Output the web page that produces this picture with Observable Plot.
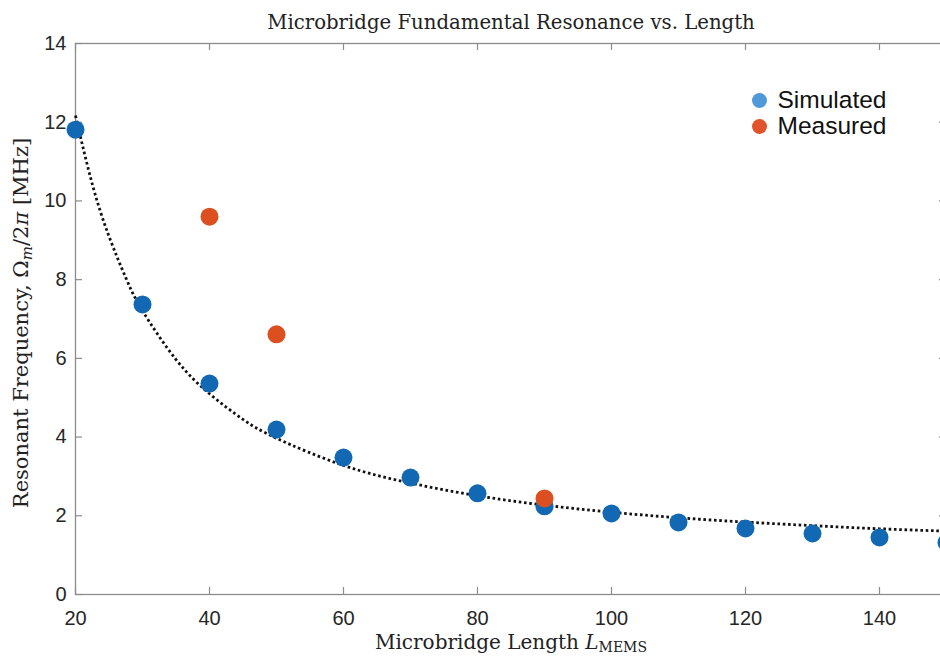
<!DOCTYPE html>
<html><head><meta charset="utf-8">
<script src="https://cdn.jsdelivr.net/npm/d3@7"></script>
<script src="https://cdn.jsdelivr.net/npm/@observablehq/plot@0.6"></script>
<style>
html,body{margin:0;padding:0;background:#fff;overflow:hidden;width:940px;height:656px}
#chart{position:relative;width:948px;height:656px}
</style>
</head><body><div id="chart"></div>
<script>
// ---- data ----
const lengths   = [20, 30, 40, 50, 60, 70, 80, 90, 100, 110, 120, 130, 140, 150];
const simulated = [11.81, 7.37, 5.36, 4.19, 3.48, 2.97, 2.57, 2.24, 2.06, 1.83, 1.68, 1.55, 1.45, 1.32];
const measuredLengths = [40, 50, 90];
const measured        = [9.60, 6.61, 2.44];
const fitLengths = [20, 22.5, 25, 27.5, 30, 35, 40, 45, 50, 60, 70, 80, 90, 100, 110, 120, 130, 140, 150];
const fitValues  = [12.17, 10.43, 9.1, 8.05, 7.21, 5.97, 5.1, 4.45, 3.97, 3.28, 2.83, 2.51, 2.27, 2.09, 1.95, 1.84, 1.75, 1.67, 1.61];
const xTicks = [20, 40, 60, 80, 100, 120, 140];
const yTicks = [0, 2, 4, 6, 8, 10, 12, 14];
const seriesNames = ["Simulated", "Measured"];
const titleText = "Microbridge Fundamental Resonance vs. Length";
const xLabelText = "Microbridge Length LMEMS";
const yLabelText = "Resonant Frequency, Ωm/2π [MHz]";

const simData = lengths.map((x, i) => ({x, y: simulated[i]}));
const meaData = measuredLengths.map((x, i) => ({x, y: measured[i]}));
const fitData = fitLengths.map((x, i) => ({x, y: fitValues[i]}));

const W = 948, H = 656, ML = 75, MR = 2, MT = 43, MB = 62;
const frameW = W - ML - MR, frameH = H - MT - MB, tickLen = 7;

const blue = "#1268b3", orange = "#dc4f20";
const legendBlue = "#4f98da", legendOrange = "#e0532b";
const axisGray = "#8c8c8c", textCol = "#262626";
const sans = "Liberation Sans, Arial, sans-serif";
const serif = "DejaVu Serif, serif";

const chart = Plot.plot({
  width: W, height: H,
  marginLeft: ML, marginRight: MR, marginTop: MT, marginBottom: MB,
  style: {background: "#fff", overflow: "visible"},
  x: {domain: [20, 150]},
  y: {domain: [0, 14]},
  marks: [
    Plot.frame({stroke: axisGray, strokeWidth: 1.3}),
    // inward ticks on all four sides
    Plot.tickX(xTicks, {x: d => d, insetTop: frameH - tickLen, stroke: axisGray, strokeWidth: 1.2}),
    Plot.tickX(xTicks, {x: d => d, insetBottom: frameH - tickLen, stroke: axisGray, strokeWidth: 1.2}),
    Plot.tickY(yTicks, {y: d => d, insetRight: frameW - tickLen, stroke: axisGray, strokeWidth: 1.2}),
    Plot.tickY(yTicks, {y: d => d, insetLeft: frameW - tickLen, stroke: axisGray, strokeWidth: 1.2}),
    // tick labels
    Plot.axisX({anchor: "bottom", ticks: xTicks, tickSize: 0, tickPadding: 16, fill: textCol, fontSize: 20, fontFamily: sans, label: null}),
    Plot.axisY({anchor: "left", ticks: yTicks, tickSize: 0, tickPadding: 9, fill: textCol, fontSize: 20, fontFamily: sans, label: null}),
    // fit curve
    Plot.line(fitData, {x: "x", y: "y", stroke: "#111", strokeWidth: 2.8, strokeDasharray: "2.6 2.7", strokeLinecap: "butt", curve: "natural"}),
    Plot.dot(simData, {x: "x", y: "y", r: 9, fill: blue, stroke: "none"}),
    Plot.dot(meaData, {x: "x", y: "y", r: 9, fill: orange, stroke: "none"}),
    // legend
    Plot.dot([seriesNames[0]], {frameAnchor: "top-left", dx: 684, dy: 57, r: 7.5, fill: legendBlue}),
    Plot.dot([seriesNames[1]], {frameAnchor: "top-left", dx: 684, dy: 83, r: 7.5, fill: legendOrange}),
    Plot.text([seriesNames[0]], {text: d => d, frameAnchor: "top-left", dx: 702, dy: 57, textAnchor: "start", lineAnchor: "middle", fontSize: 24.5, fontFamily: sans, fill: "#111"}),
    Plot.text([seriesNames[1]], {text: d => d, frameAnchor: "top-left", dx: 702, dy: 83, textAnchor: "start", lineAnchor: "middle", fontSize: 24.5, fontFamily: sans, fill: "#111"}),
    // title and axis labels
    Plot.text([titleText], {text: d => d, frameAnchor: "top", dy: -21, textAnchor: "middle", lineAnchor: "middle", fontSize: 19.7, fontFamily: serif, fill: "#222"}),
    Plot.text([xLabelText], {text: d => d, frameAnchor: "bottom", dy: 48, textAnchor: "middle", lineAnchor: "middle", fontSize: 20, fontFamily: serif, fill: "#222"}),
    Plot.text([yLabelText], {text: d => d, frameAnchor: "left", dx: -54, dy: 4, rotate: -90, textAnchor: "middle", lineAnchor: "middle", fontSize: 21, fontFamily: serif, fill: "#222"})
  ]
});
document.getElementById("chart").appendChild(chart);

// rich formatting for math in labels
chart.querySelectorAll("text").forEach(t => {
  if (t.textContent === xLabelText) {
    t.innerHTML = 'Microbridge Length <tspan font-style="italic">L</tspan><tspan font-size="14" dy="3">MEMS</tspan>';
  } else if (t.textContent === yLabelText) {
    t.innerHTML = 'Resonant Frequency, Ω<tspan font-style="italic" font-size="15" dy="4">m</tspan><tspan dy="-4">/2</tspan><tspan font-style="italic">π</tspan> [MHz]';
  }
});
</script>
</body></html>
